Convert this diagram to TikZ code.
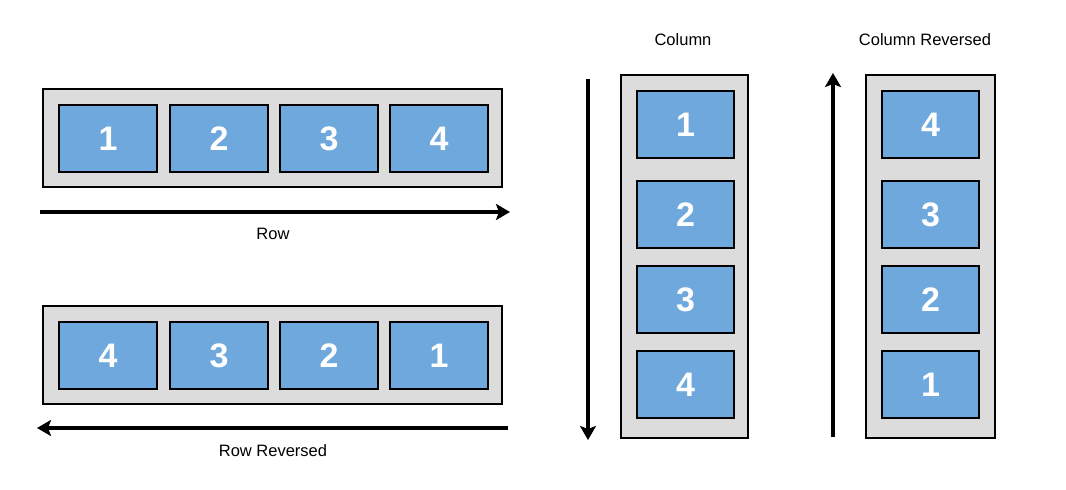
\documentclass[tikz,border=0pt]{standalone}
\usepackage{fontspec}
\setmainfont{Liberation Sans}
\usetikzlibrary{arrows.meta}
\definecolor{boxgrey}{HTML}{DCDCDC}
\definecolor{itemblue}{HTML}{6FA8DC}
\tikzset{
  container/.style={draw=black, fill=boxgrey, line width=2.3pt, inner sep=0pt, anchor=north west},
  item/.style={draw=black, fill=itemblue, line width=2.3pt, inner sep=0pt, anchor=north west,
     text=white, font=\bfseries\fontsize{34}{34}\selectfont},
  lbl/.style={font=\fontsize{16.5}{16.5}\selectfont, text=black},
  flow/.style={line width=3.5pt, -{Stealth[length=14pt,width=16pt,inset=3pt]}}
}
\begin{document}
\begin{tikzpicture}[x=1pt,y=-1pt]
\useasboundingbox (0,0) rectangle (1066,490);
% Row
\node[container, minimum width=459pt, minimum height=98pt] (rowc) at (42,88) {};
\node[item, minimum width=98pt, minimum height=67pt] (r1) at (58,104) {1};
\node[item, minimum width=98pt, minimum height=67pt] (r2) at (169,104) {2};
\node[item, minimum width=98pt, minimum height=67pt] (r3) at (279,104) {3};
\node[item, minimum width=98pt, minimum height=67pt] (r4) at (389,104) {4};
\coordinate (rowA) at (40,212);
\coordinate (rowB) at (510,212);
\draw[flow] (rowA) -- (rowB);
\node[lbl] (rowl) at (273,234) {Row};
% Row reversed
\node[container, minimum width=459pt, minimum height=98pt] (rrc) at (42,305) {};
\node[item, minimum width=98pt, minimum height=67pt] (rr4) at (58,321) {4};
\node[item, minimum width=98pt, minimum height=67pt] (rr3) at (169,321) {3};
\node[item, minimum width=98pt, minimum height=67pt] (rr2) at (279,321) {2};
\node[item, minimum width=98pt, minimum height=67pt] (rr1) at (389,321) {1};
\coordinate (rrA) at (508,428);
\coordinate (rrB) at (37,428);
\draw[flow] (rrA) -- (rrB);
\node[lbl] (rrl) at (273,451) {Row Reversed};
% Column
\node[lbl] (coll) at (683,40) {Column};
\node[container, minimum width=127pt, minimum height=363pt] (colc) at (620,74) {};
\node[item, minimum width=97pt, minimum height=67pt] (c1) at (636,90) {1};
\node[item, minimum width=97pt, minimum height=67pt] (c2) at (636,180) {2};
\node[item, minimum width=97pt, minimum height=67pt] (c3) at (636,265) {3};
\node[item, minimum width=97pt, minimum height=67pt] (c4) at (636,350) {4};
\coordinate (colA) at (588,79);
\coordinate (colB) at (588,440);
\draw[flow] (colA) -- (colB);
% Column reversed
\node[lbl] (crl) at (925,40) {Column Reversed};
\node[container, minimum width=129pt, minimum height=363pt] (crc) at (865,74) {};
\node[item, minimum width=97pt, minimum height=67pt] (cr4) at (881,90) {4};
\node[item, minimum width=97pt, minimum height=67pt] (cr3) at (881,180) {3};
\node[item, minimum width=97pt, minimum height=67pt] (cr2) at (881,265) {2};
\node[item, minimum width=97pt, minimum height=67pt] (cr1) at (881,350) {1};
\coordinate (crA) at (833,437);
\coordinate (crB) at (833,73);
\draw[flow] (crA) -- (crB);
\end{tikzpicture}
\end{document}
